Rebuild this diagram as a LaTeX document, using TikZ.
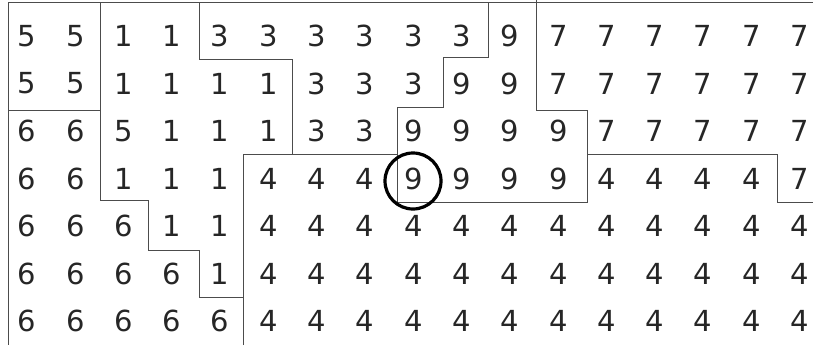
\documentclass[tikz,border=0pt]{standalone}
\usepackage{fontspec}
\setmainfont{DejaVu Sans}
\usepackage{tikz}

\begin{document}
\begin{tikzpicture}[x=1pt,y=-1pt,
    digit/.style={inner sep=0pt, text=black!85, font=\fontsize{29}{34}\selectfont},
    grid/.style={draw=black!70, line width=1pt},
    mark circle/.style={draw=black, line width=3.2pt}]
\useasboundingbox (0,0) rectangle (813,345);
\foreach \row [count=\r] in {{5,5,1,1,3,3,3,3,3,3,9,7,7,7,7,7,7},
    {5,5,1,1,1,1,3,3,3,9,9,7,7,7,7,7,7},
    {6,6,5,1,1,1,3,3,9,9,9,9,7,7,7,7,7},
    {6,6,1,1,1,4,4,4,9,9,9,9,4,4,4,4,7},
    {6,6,6,1,1,4,4,4,4,4,4,4,4,4,4,4,4},
    {6,6,6,6,1,4,4,4,4,4,4,4,4,4,4,4,4},
    {6,6,6,6,6,4,4,4,4,4,4,4,4,4,4,4,4}}{
  \foreach \v [count=\c] in \row {
    \node[digit] (d-\r-\c) at ({27+48.3*(\c-1)},{36+47.5*(\r-1)}) {\v};
  }
}
\draw[grid] (8,3) -- (813,3);
\draw[grid] (8,3) -- (8,345);
\draw[grid] (8,110) -- (100,110);
\draw[grid] (100,3) -- (100,200) -- (148,200) -- (148,250) -- (199,250) -- (199,297) -- (243,297);
\draw[grid] (199,3) -- (199,60) -- (292,60) -- (292,154);
\draw[grid] (243,345) -- (243,154) -- (397,154);
\draw[grid] (488,3) -- (488,58) -- (443,58) -- (443,107) -- (397,107) -- (397,202)
  -- (587,202) -- (587,154) -- (777,154) -- (777,202) -- (813,202);
\draw[grid] (536,0) -- (536,110) -- (587,110) -- (587,154);
\draw[mark circle] (413,181) circle (28);
\end{tikzpicture}
\end{document}
